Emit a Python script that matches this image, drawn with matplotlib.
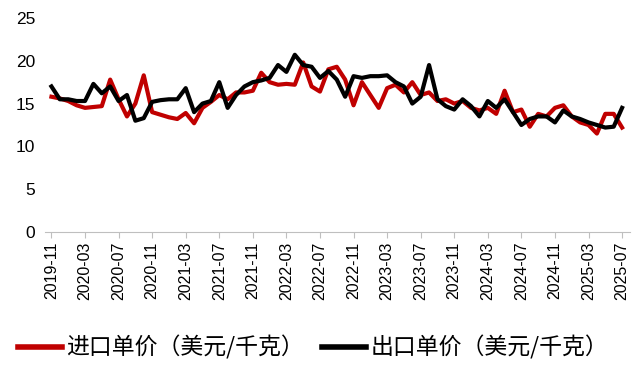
import matplotlib
matplotlib.use("Agg")
import matplotlib.pyplot as plt
import pandas as pd

months = pd.period_range("2019-11", "2025-07", freq="M").strftime("%Y-%m").tolist()

# 进口单价 (USD/kg)
import_price = [
    15.8, 15.6,
    15.3, 14.8, 14.5, 14.6, 14.7, 17.8, 15.5, 13.5, 15.0, 18.3, 14.0, 13.7,
    13.4, 13.2, 13.9, 12.7, 14.5, 15.2, 16.0, 15.5, 16.3, 16.3, 16.5, 18.6,
    17.5, 17.2, 17.3, 17.2, 19.8, 17.0, 16.4, 19.0, 19.3, 17.8, 14.8, 17.5,
    16.0, 14.5, 16.8, 17.2, 16.3, 17.5, 16.0, 16.3, 15.3, 15.5, 15.0, 15.3,
    14.5, 14.2, 14.5, 13.8, 16.5, 14.0, 14.3, 12.3, 13.8, 13.5, 14.5, 14.8,
    13.5, 12.8, 12.5, 11.5, 13.8, 13.8, 12.2,
]
# 出口单价 (USD/kg)
export_price = [
    17.0, 15.5,
    15.5, 15.3, 15.3, 17.3, 16.2, 17.0, 15.3, 16.0, 13.0, 13.3, 15.2, 15.4,
    15.5, 15.5, 16.8, 14.0, 15.0, 15.3, 17.5, 14.5, 16.0, 17.0, 17.5, 17.7,
    18.0, 19.5, 18.7, 20.7, 19.5, 19.3, 18.0, 18.8, 17.8, 15.8, 18.2, 18.0,
    18.2, 18.2, 18.3, 17.5, 17.0, 15.0, 15.8, 19.5, 15.5, 14.7, 14.3, 15.5,
    14.7, 13.5, 15.3, 14.5, 15.5, 14.0, 12.5, 13.2, 13.5, 13.5, 12.8, 14.2,
    13.5, 13.2, 12.8, 12.5, 12.2, 12.3, 14.5,
]

plt.rcParams['font.family'] = ['Liberation Sans', 'Noto Sans CJK SC']

fig = plt.figure(figsize=(6.39, 3.66), dpi=100)
ax = fig.add_axes([0.070, 0.366, 0.916, 0.585])

x = range(len(months))
ax.plot(x, import_price, color='#C00000', lw=3.0, label='进口单价（美元/千克）')
ax.plot(x, export_price, color='black', lw=3.0, label='出口单价（美元/千克）')

ax.set_ylim(0, 25)
ax.set_yticks([0, 5, 10, 15, 20, 25])
ax.set_xlim(-0.8, len(months) - 0.05)
ax.set_xticks(list(x)[::4])
ax.set_xticklabels(months[::4], rotation=90, fontsize=11.5)
ax.tick_params(axis='y', length=0, labelsize=12.5, pad=7)
ax.tick_params(axis='x', length=4, color='#bfbfbf', pad=3)

for s in ['top', 'right', 'left']:
    ax.spines[s].set_visible(False)
ax.spines['bottom'].set_color('#bfbfbf')

leg = fig.legend(loc='center', bbox_to_anchor=(0.49, 0.05), ncol=2, frameon=False,
                 prop={'family': ['Noto Sans CJK SC'], 'size': 16.5},
                 handlelength=1.9, handletextpad=0.2, columnspacing=0.8)
for h in leg.get_lines():
    h.set_linewidth(4)

fig.savefig("out.png", dpi=100)
